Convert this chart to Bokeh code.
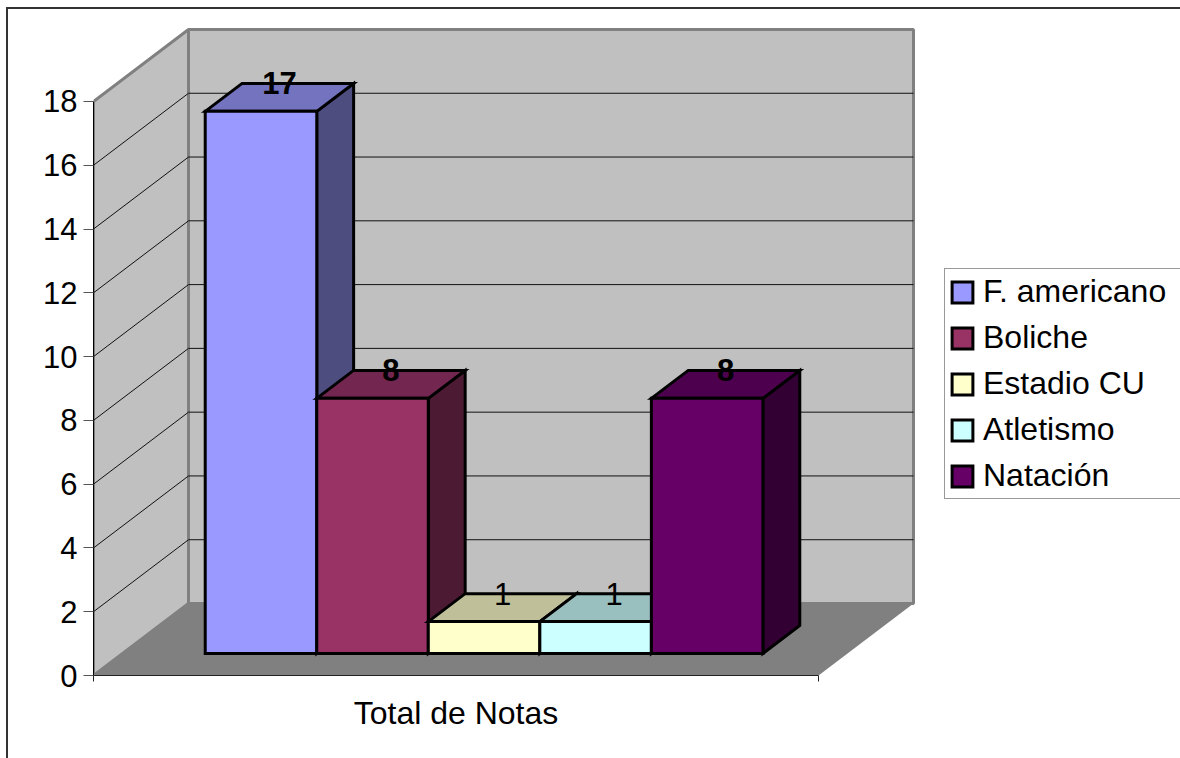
from bokeh.plotting import figure
from bokeh.embed import file_html
from bokeh.resources import INLINE
from bokeh.core.properties import value
from bokeh.models import Range1d, FixedTicker, Legend, LegendItem, LinearAxis

categories = ["F. americano", "Boliche", "Estadio CU", "Atletismo", "Natación"]
totals = [17, 8, 1, 1, 8]
front_colors = ["#9999FF", "#993366", "#FFFFCC", "#CCFFFF", "#660066"]
top_colors = ["#7373BF", "#732650", "#BFBF99", "#99BFBF", "#4D004D"]
side_colors = ["#4D4D80", "#4D1A33", "#808066", "#668080", "#330033"]
label_weights = ["bold", "bold", "normal", "normal", "bold"]
y_ticks = [0, 2, 4, 6, 8, 10, 12, 14, 16, 18]
axis_title = "Total de Notas"

FONT = "Liberation Sans"
FS = "31px"
FS_BIG = "32px"
W, H = 1180, 758
LEFT, BOTTOM = 93, 83
PX_PER_X, PX_PER_Y = 725.0, 31.89
DX, DY = 95 / PX_PER_X, 72 / PX_PER_Y   # full chart depth in data units
D0, D1 = 0.306, 0.694                   # bar depth extent
GAP = 1.5
BW = 1 / (len(categories) + GAP)
SHIFT = -1 / PX_PER_X
Y_MAX = y_ticks[-1]


def px(x, d):
    return x + d * DX


def py(v, d):
    return v + d * DY


p = figure(width=W, height=H, output_backend="svg", toolbar_location=None,
           x_range=Range1d(0, (W - LEFT) / PX_PER_X),
           y_range=Range1d(0, (H - BOTTOM) / PX_PER_Y),
           min_border_left=LEFT, min_border_bottom=BOTTOM,
           min_border_top=0, min_border_right=0,
           background_fill_color=None, border_fill_color=None,
           outline_line_color=None, x_axis_type=None, y_axis_type=None)
# chart-area edge: only its left and top sides fall inside the picture
p.styles = {"background": "linear-gradient(#333,#333) 6px 7px / 2px 100% no-repeat, "
                          "linear-gradient(#333,#333) 6px 7px / 100% 2px no-repeat, white"}

# walls and floor
p.patch([px(0, 0), px(0, 1), px(1, 1), px(1, 0)], [py(0, 0), py(0, 1), py(0, 1), py(0, 0)],
        fill_color="#808080", line_color=None)
p.patch([px(0, 1), px(1, 1), px(1, 1), px(0, 1)], [py(0, 1), py(0, 1), py(Y_MAX, 1), py(Y_MAX, 1)],
        fill_color="#C0C0C0", line_color="#808080", line_width=3)
p.patch([px(0, 0), px(0, 1), px(0, 1), px(0, 0)], [py(0, 0), py(0, 1), py(Y_MAX, 1), py(Y_MAX, 0)],
        fill_color="#C0C0C0", line_color="#808080", line_width=3)

# grid lines
for t in y_ticks[1:-1]:
    p.line([px(0, 0), px(0, 1), px(1, 1)], [py(t, 0), py(t, 1), py(t, 1)],
           line_color="#111111", line_width=1)

# bars
items = []
for i, (name, v) in enumerate(zip(categories, totals)):
    x0 = (GAP / 2 + i) * BW + SHIFT
    x1 = x0 + BW
    p.patch([px(x1, D0), px(x1, D1), px(x1, D1), px(x1, D0)],
            [py(0, D0), py(0, D1), py(v, D1), py(v, D0)],
            fill_color=side_colors[i], line_color="black", line_width=3, line_join="miter")
    p.patch([px(x0, D0), px(x0, D1), px(x1, D1), px(x1, D0)],
            [py(v, D0), py(v, D1), py(v, D1), py(v, D0)],
            fill_color=top_colors[i], line_color="black", line_width=3, line_join="miter")
    r = p.quad(left=[px(x0, D0)], right=[px(x1, D0)], bottom=[py(0, D0)], top=[py(v, D0)],
               fill_color=front_colors[i], line_color="black", line_width=3, line_join="miter")
    items.append(LegendItem(label=name, renderers=[r]))

# data labels
for i, v in enumerate(totals):
    xc = (GAP / 2 + i + 0.5) * BW + SHIFT
    p.text([px(xc, (D0 + D1) / 2)], [py(v, D1)], text=[str(v)], text_align="center",
           text_baseline="middle", text_color="black", text_font=value(FONT),
           text_font_size=FS, text_font_style=label_weights[i])

# axes
yaxis = LinearAxis(ticker=FixedTicker(ticks=y_ticks), bounds=(0, Y_MAX),
                   axis_line_color="black", axis_line_width=1,
                   major_tick_in=0, major_tick_out=10, major_tick_line_color="#555555",
                   minor_tick_line_color=None, major_label_standoff=6,
                   major_label_text_font=FONT, major_label_text_font_size=FS,
                   major_label_text_color="black")
p.add_layout(yaxis, "left")
xaxis = LinearAxis(ticker=FixedTicker(ticks=[0.5], minor_ticks=[0, 1]), bounds=(0, 1),
                   axis_line_color="#222222", axis_line_width=1,
                   major_tick_line_color=None, major_tick_in=0, major_tick_out=6,
                   minor_tick_in=0, minor_tick_out=6, minor_tick_line_color="#222222",
                   major_label_overrides={0.5: axis_title}, major_label_standoff=13,
                   major_label_text_font=FONT, major_label_text_font_size=FS_BIG,
                   major_label_text_color="black")
p.add_layout(xaxis, "below")

legend = Legend(items=items, location=(851, 176), orientation="vertical",
                border_line_color="#333333", border_line_width=1,
                background_fill_color="white", background_fill_alpha=1,
                label_text_font=FONT, label_text_font_size=FS_BIG, label_text_color="black",
                glyph_width=26, glyph_height=26, label_standoff=8, label_width=193,
                spacing=9, padding=4, margin=0)
p.add_layout(legend, "center")

open("out.html", "w").write(file_html(p, INLINE))
